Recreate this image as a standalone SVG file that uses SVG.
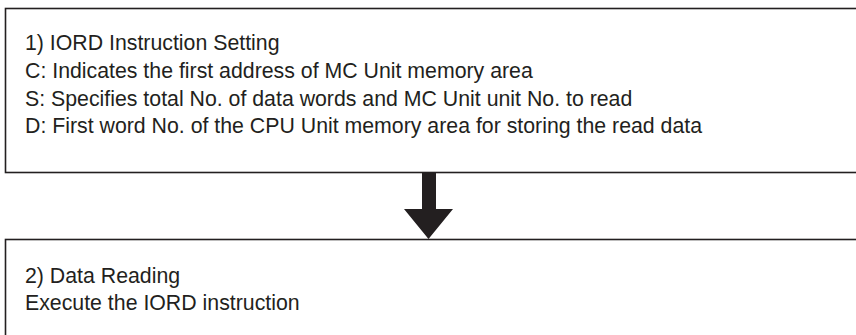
<svg xmlns="http://www.w3.org/2000/svg" width="856" height="335" viewBox="0 0 856 335">
<style>
.box{fill:#fff;stroke:#231f20;stroke-width:1.6}
.t{font-family:"Liberation Sans",Arial,sans-serif;font-size:21.3px;fill:#231f20}
</style>
<rect width="856" height="335" fill="#fff"/>
<g id="step1">
<rect class="box" x="5.5" y="8.5" width="860" height="164"/>
<text class="t" x="25" y="50">1) IORD Instruction Setting</text>
<text class="t" x="25" y="78">C: Indicates the first address of MC Unit memory area</text>
<text class="t" x="25" y="106">S: Specifies total No. of data words and MC Unit unit No. to read</text>
<text class="t" x="25" y="133">D: First word No. of the CPU Unit memory area for storing the read data</text>
</g>
<g id="connectors">
<polygon points="422,173 436,173 436,209 453,209 428.5,239 404,209 422,209" fill="#231f20"/>
</g>
<g id="step2">
<rect class="box" x="5.5" y="239.5" width="860" height="110"/>
<text class="t" x="25" y="283">2) Data Reading</text>
<text class="t" x="25" y="310">Execute the IORD instruction</text>
</g>
</svg>
